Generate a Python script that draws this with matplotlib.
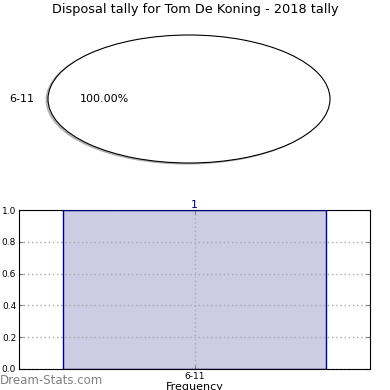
import matplotlib
matplotlib.use("Agg")
import matplotlib.pyplot as plt

# data
title = "Disposal tally for Tom De Koning - 2018 tally"
categories = ["6-11"]
counts = [1]
yticks = [0.0, 0.2, 0.4, 0.6, 0.8, 1.0]

fig = plt.figure(figsize=(3.9, 3.9), dpi=100)

# ---- pie (stretched, not equal aspect) ----
ax1 = fig.add_axes([48 / 390, 1 - 163 / 390, 282 / 390, 128 / 390])
ax1.pie(
    counts,
    labels=categories,
    colors=["white"],
    autopct="%.2f%%",
    shadow=dict(ox=-0.01, oy=-0.012, shade=0.5),
    wedgeprops=dict(edgecolor="black", linewidth=0.8),
    textprops=dict(fontsize=8),
    frame=False,
)
ax1.set_aspect("auto")
ax1.set_xlim(-1, 1)
ax1.set_ylim(-1, 1)
ax1.axis("off")
fig.text(195 / 390, 1 - 10 / 390, title, ha="center", va="center", fontsize=9.3)

# ---- bar ----
ax2 = fig.add_axes([19 / 390, 1 - 369 / 390, 351 / 390, 159 / 390])
x = list(range(len(categories)))
ax2.bar(x, counts, width=0.8, color="navy", alpha=0.2, zorder=1)
ax2.bar(x, counts, width=0.8, fill=False, edgecolor="navy", linewidth=1, zorder=3)
for xi, c in zip(x, counts):
    ax2.text(xi, c, str(c), ha="center", va="bottom", color="navy", fontsize=8)
ax2.set_xlim(-0.532, 0.532)
ax2.set_ylim(0, 1)
ax2.set_xticks(x)
ax2.set_xticklabels(categories, fontsize=6.5)
ax2.set_yticks(yticks)
ax2.set_yticklabels(["%.1f" % v for v in yticks], fontsize=6.5)
ax2.tick_params(direction="in", length=3, color="gray", pad=2,
                top=True, right=True)
ax2.grid(True, linestyle=(0, (1, 2)), color="#aaaaaa", linewidth=1, zorder=2)
ax2.set_xlabel("Frequency", fontsize=8, labelpad=1)
fig.text(0, 1 - 381 / 390, "Dream-Stats.com", ha="left", va="center",
         fontsize=8.5, color="gray")

fig.savefig("out.png", dpi=100)
